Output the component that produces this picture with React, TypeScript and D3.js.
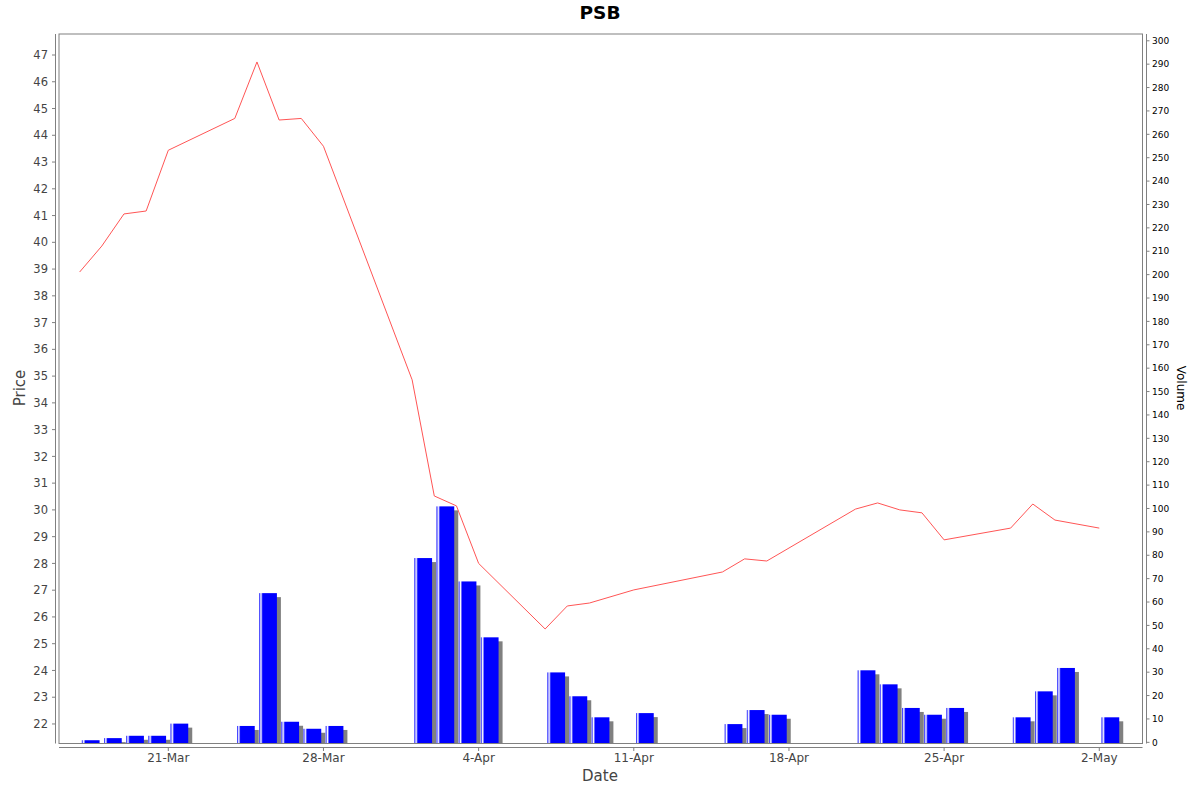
import React from "react";
import * as d3 from "d3";

const title = "PSB";
const dates = [
  "2014-03-17", "2014-03-18", "2014-03-19", "2014-03-20", "2014-03-21",
  "2014-03-24", "2014-03-25", "2014-03-26", "2014-03-27", "2014-03-28",
  "2014-04-01", "2014-04-02", "2014-04-03", "2014-04-04",
  "2014-04-07", "2014-04-08", "2014-04-09", "2014-04-11",
  "2014-04-15", "2014-04-16", "2014-04-17",
  "2014-04-21", "2014-04-22", "2014-04-23", "2014-04-24", "2014-04-25",
  "2014-04-28", "2014-04-29", "2014-04-30", "2014-05-02",
];
const prices = [
  38.89, 39.86, 41.06, 41.17, 43.44,
  44.63, 46.74, 44.57, 44.63, 43.59,
  34.86, 30.52, 30.15, 28.0,
  25.55, 26.41, 26.52, 27.01,
  27.68, 28.17, 28.09,
  30.03, 30.26, 30.0, 29.89, 28.88,
  29.32, 30.22, 29.62, 29.32,
];
const volumes = [
  0.9, 1.8, 2.8, 2.8, 8.0,
  7.0, 63.8, 8.8, 5.8, 7.0,
  78.8, 100.9, 68.8, 44.9,
  29.9, 19.7, 10.7, 12.5,
  7.8, 13.8, 11.8,
  30.8, 24.8, 14.7, 11.8, 14.7,
  10.7, 21.8, 31.8, 10.7,
];
const dateTicks = ["2014-03-21", "2014-03-28", "2014-04-04", "2014-04-11", "2014-04-18", "2014-04-25", "2014-05-02"];
const priceTicks = d3.range(22, 48, 1);
const volumeTicks = d3.range(0, 301, 10);

const W = 1200, H = 792;
const L = 59, R = 1142.5, T = 34, B = 743.5;
const DAY = 86400000;
const FONT = "'DejaVu Sans', sans-serif";

const parse = (s: string) => new Date(s + "T00:00:00Z");

export default function App() {
  const x = d3.scaleUtc()
    .domain([new Date(Date.UTC(2014, 2, 16, 1, 40)), new Date(Date.UTC(2014, 4, 3, 22, 47))])
    .range([L, R]);
  const yP = d3.scaleLinear().domain([21.27, 47.785]).range([B, T]);
  const yV = d3.scaleLinear().domain([-0.5, 302.9]).range([B, T]);
  const fmt = d3.utcFormat("%-d-%b");

  const pts = dates.map((d, i) => ({ d: parse(d), p: prices[i], v: volumes[i] }));
  const line = d3.line<{ d: Date; p: number }>().x(e => x(e.d)).y(e => yP(e.p));

  const margin = 0.2;
  const bars = pts.map((e, i) => {
    const x0 = x(e.d), x1 = x(new Date(e.d.getTime() + DAY));
    const w = (x1 - x0) * (1 - margin);
    const bx = x0 + (x1 - x0) * margin / 2;
    const top = yV(e.v);
    const base = B;
    return { i, bx, w, top, base };
  });

  return (
    <svg width={W} height={H} style={{ position: "absolute", left: 0, top: 0, background: "#fff" }} fontFamily={FONT}>
      <defs>
        <clipPath id="plotClip"><rect x={L} y={T} width={R - L} height={B - T} /></clipPath>
        <linearGradient id="barGrad" x1="0" y1="0" x2="1" y2="0">
          <stop offset="0" stopColor="#0000ff" />
          <stop offset="0.1" stopColor="#ffffff" />
          <stop offset="0.2" stopColor="#0000ff" />
          <stop offset="1" stopColor="#0000ff" />
        </linearGradient>
      </defs>
      <rect x={0} y={0} width={W} height={H} fill="#fff" />
      <text x={600} y={18.5} textAnchor="middle" fontSize={18.5} fontWeight="bold" fill="#000">{title}</text>

      <rect x={L} y={T} width={R - L} height={B - T} fill="#fff" />
      <g clipPath="url(#plotClip)">
        {bars.map(b => (
          <g key={b.i}>
            <rect x={b.bx + 4} y={Math.min(b.top + 4, b.base)} width={b.w} height={Math.max(0, b.base - b.top - 4)} fill="#808080" />
            <rect x={b.bx} y={b.top} width={b.w} height={b.base - b.top} fill="url(#barGrad)" />
          </g>
        ))}
        <path d={line(pts) || ""} fill="none" stroke="#ff5555" strokeWidth={1} />
      </g>
      <rect x={L} y={T} width={R - L} height={B - T} fill="none" stroke="#808080" strokeWidth={1} />

      {/* Left price axis */}
      <line x1={55.5} x2={55.5} y1={T} y2={B} stroke="#808080" />
      {priceTicks.map(t => (
        <g key={t}>
          <line x1={52} x2={55.5} y1={yP(t)} y2={yP(t)} stroke="#808080" />
          <text x={48} y={yP(t)} dy="0.36em" textAnchor="end" fontSize={11.5} fill="#444">{t}</text>
        </g>
      ))}
      <text transform={`translate(25,388) rotate(-90)`} textAnchor="middle" fontSize={15} fill="#444">Price</text>

      {/* Right volume axis */}
      <line x1={1146.5} x2={1146.5} y1={T} y2={B} stroke="#808080" />
      {volumeTicks.map(t => (
        <g key={t}>
          <line x1={1146.5} x2={1149.5} y1={yV(t)} y2={yV(t)} stroke="#808080" />
          <text x={1152} y={yV(t)} dy="0.36em" textAnchor="start" fontSize={9} fill="#000">{t}</text>
        </g>
      ))}
      <text transform={`translate(1177,388) rotate(90)`} textAnchor="middle" fontSize={12} fill="#000">Volume</text>

      {/* Bottom date axis */}
      <line x1={L} x2={R} y1={747.5} y2={747.5} stroke="#808080" />
      {dateTicks.map(t => {
        const d = parse(t);
        return (
          <g key={t}>
            <line x1={x(d)} x2={x(d)} y1={747.5} y2={751} stroke="#808080" />
            <text x={x(d)} y={762} textAnchor="middle" fontSize={12} fill="#444">{fmt(d)}</text>
          </g>
        );
      })}
      <text x={600} y={781} textAnchor="middle" fontSize={15} fill="#444">Date</text>
    </svg>
  );
}
